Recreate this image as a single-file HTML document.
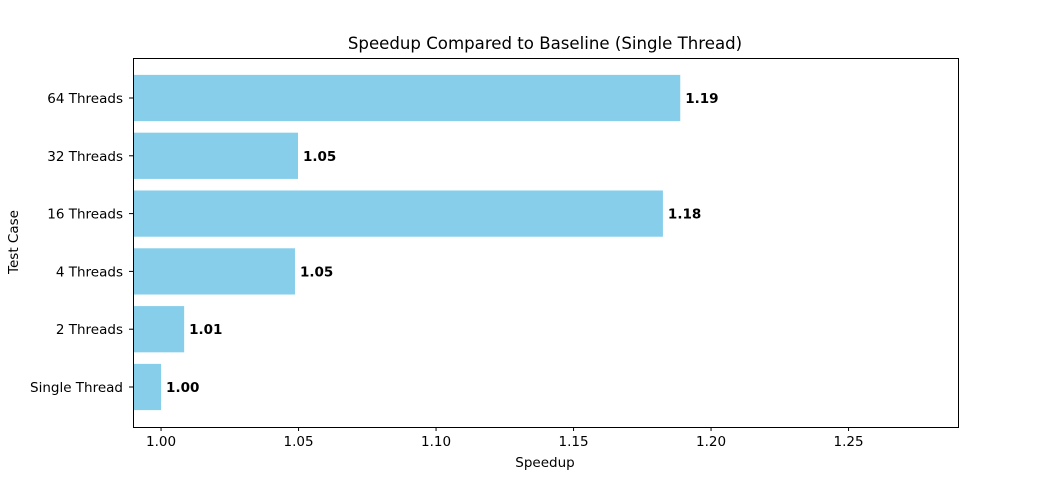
<!DOCTYPE html>
<html><head><meta charset="utf-8"><style>
body{margin:0;background:#fff;}
svg{display:block;font-family:"DejaVu Sans","Liberation Sans",sans-serif;}
</style></head><body>
<svg id="chart" width="1064" height="480">
<text x="545" y="49" text-anchor="middle" font-size="16.6">Speedup Compared to Baseline (Single Thread)</text>
<text x="545" y="467" text-anchor="middle" font-size="13.5">Speedup</text>
<text transform="translate(18,242) rotate(-90)" text-anchor="middle" font-size="13.5">Test Case</text>
<g id="bars"></g><g id="ticks"></g>
<rect x="133.5" y="58.5" width="825" height="369" fill="none" stroke="#000" stroke-width="1"/>
</svg>
<script>
const categories=["Single Thread","2 Threads","4 Threads","16 Threads","32 Threads","64 Threads"];
const speedups=[1.000,1.0084,1.0487,1.1825,1.0498,1.1888];
const valueLabels=["1.00","1.01","1.05","1.18","1.05","1.19"];
const xTicks=[1.00,1.05,1.10,1.15,1.20,1.25];
const xTickLabels=["1.00","1.05","1.10","1.15","1.20","1.25"];
const L=133,R=958,T=58,B=427,xmin=0.9898,xmax=1.2898;
const ns="http://www.w3.org/2000/svg";
const xs=v=>L+(v-xmin)/(xmax-xmin)*(R-L);
const unit=57.8;
const ys=i=>387-i*unit;
function mk(t,a,p){const e=document.createElementNS(ns,t);for(const k in a)e.setAttribute(k,a[k]);p.appendChild(e);return e;}
const bars=document.getElementById('bars'),ticks=document.getElementById('ticks');
const bw=unit*0.8;
categories.forEach((c,i)=>{
 const cy=ys(i),x2=xs(speedups[i]);
 const r=mk('rect',{x:L,y:cy-bw/2,width:Math.max(0,x2-L),height:bw,fill:'#87ceeb'},bars);
 
 
 const t=mk('text',{x:x2+5,y:cy+5,'font-size':13.5,'font-weight':'bold'},bars);t.textContent=valueLabels[i];
 
 
 const tk=mk('line',{x1:L-4,x2:L,y1:cy,y2:cy,stroke:'#000'},ticks);
 
 
 const tl=mk('text',{x:L-10,y:cy+5,'font-size':13.5,'text-anchor':'end'},ticks);tl.textContent=c;
 
 
});
xTicks.forEach((v,i)=>{
 const x=xs(v);
 const tk=mk('line',{x1:x,x2:x,y1:B,y2:B+4,stroke:'#000'},ticks);
 
 
 const tl=mk('text',{x:x,y:B+19,'font-size':13.5,'text-anchor':'middle'},ticks);tl.textContent=xTickLabels[i];
 
 
});
</script>
</body></html>
